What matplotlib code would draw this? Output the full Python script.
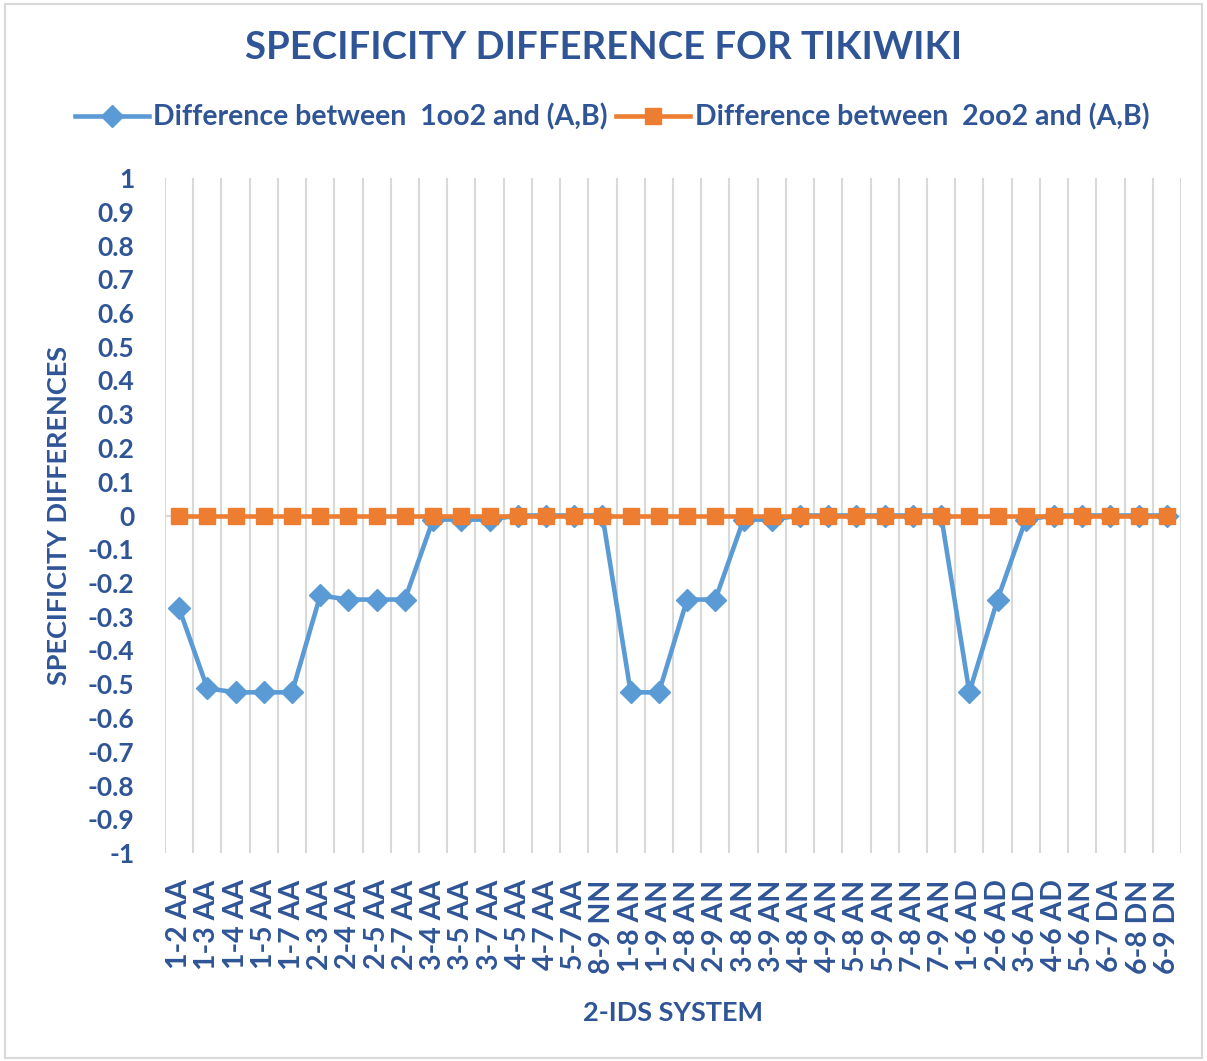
import matplotlib
matplotlib.use("Agg")
import matplotlib.pyplot as plt
from matplotlib.patches import Rectangle

plt.rcParams['font.family'] = ['Lato', 'DejaVu Sans']

categories = ["1-2 AA", "1-3 AA", "1-4 AA", "1-5 AA", "1-7 AA", "2-3 AA", "2-4 AA", "2-5 AA",
              "2-7 AA", "3-4 AA", "3-5 AA", "3-7 AA", "4-5 AA", "4-7 AA", "5-7 AA", "8-9 NN",
              "1-8 AN", "1-9 AN", "2-8 AN", "2-9 AN", "3-8 AN", "3-9 AN", "4-8 AN", "4-9 AN",
              "5-8 AN", "5-9 AN", "7-8 AN", "7-9 AN", "1-6 AD", "2-6 AD", "3-6 AD", "4-6 AD",
              "5-6 AN", "6-7 DA", "6-8 DN", "6-9 DN"]
diff_1oo2 = [-0.275, -0.512, -0.524, -0.524, -0.524, -0.237, -0.249, -0.249,
             -0.249, -0.012, -0.012, -0.012, 0.0, 0.0, 0.0, 0.0,
             -0.524, -0.524, -0.249, -0.249, -0.012, -0.012, 0.0, 0.0,
             0.0, 0.0, 0.0, 0.0, -0.524, -0.249, -0.012, 0.0,
             0.0, 0.0, 0.0, 0.0]
diff_2oo2 = [0.0] * 36
y_ticks = [1, 0.9, 0.8, 0.7, 0.6, 0.5, 0.4, 0.3, 0.2, 0.1, 0, -0.1, -0.2, -0.3, -0.4,
           -0.5, -0.6, -0.7, -0.8, -0.9, -1]
labels = ["Difference between  1oo2 and (A,B)", "Difference between  2oo2 and (A,B)"]

TXT = "#2F5597"
BLUE = "#5B9BD5"
ORANGE = "#ED7D31"
GRID = "#D9D9D9"

W, H = 1207, 1061
fig = plt.figure(figsize=(W / 100, H / 100), dpi=100)
ax = fig.add_axes([165 / W, 1 - 853 / H, (1181 - 165) / W, (853 - 178) / H])

x = list(range(len(categories)))
ax.plot(x, diff_1oo2, color=BLUE, lw=3.3, marker='D', ms=11, zorder=3, label=labels[0])
ax.plot(x, diff_2oo2, color=ORANGE, lw=3.3, marker='s', ms=12, zorder=4, label=labels[1])

ax.set_xlim(-0.5, len(categories) - 0.5)
ax.set_ylim(-1, 1)
ax.set_yticks(y_ticks)
ax.set_yticklabels([f"{v:g}" for v in y_ticks])
ax.set_xticks(x)
ax.set_xticklabels(categories, rotation=90)
ax.set_xticks([i - 0.5 for i in range(len(categories) + 1)], minor=True)
ax.grid(which='minor', axis='x', color=GRID, lw=1.5, zorder=0)
ax.tick_params(axis='both', which='both', length=0)
ax.tick_params(axis='y', labelsize=19, labelcolor=TXT, pad=22)
ax.tick_params(axis='x', labelsize=20.5, labelcolor=TXT, pad=19)
for lab in ax.get_yticklabels() + ax.get_xticklabels():
    lab.set_fontweight('bold')
for s in ax.spines.values():
    s.set_visible(False)
ax.axhline(0, color=GRID, lw=1.5, zorder=1)

ax.set_ylabel("SPECIFICITY DIFFERENCES", fontsize=19.5, fontweight='bold', color=TXT, labelpad=12)
ax.set_xlabel("2-IDS SYSTEM", fontsize=19.5, fontweight='bold', color=TXT, labelpad=20)

fig.text(0.5, 1 - 48 / H, "SPECIFICITY DIFFERENCE FOR TIKIWIKI", ha='center', va='center',
         fontsize=27.5, fontweight='bold', color=TXT)

leg = fig.legend(loc='center', bbox_to_anchor=(0.507, 1 - 117 / H), ncol=2, frameon=False,
                 fontsize=20.5, handlelength=2.6, columnspacing=0.3, handletextpad=0.15)
for t in leg.get_texts():
    t.set_color(TXT)
    t.set_fontweight('bold')

fig.patches.append(Rectangle((0.004, 0.003), 0.992, 0.993, transform=fig.transFigure,
                             fill=False, edgecolor=GRID, lw=1.5))

fig.savefig("out.png", dpi=100)
